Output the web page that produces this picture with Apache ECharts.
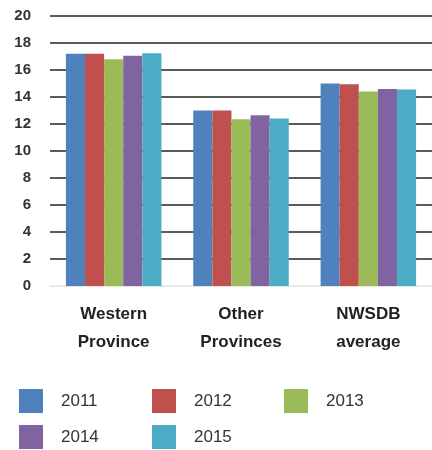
<!DOCTYPE html>
<html><head><meta charset="utf-8">
<script src="https://cdn.jsdelivr.net/npm/echarts@6/dist/echarts.min.js"></script>
<style>html,body{margin:0;padding:0;background:#fff}#c{width:432px;height:450px}</style>
</head><body><div id="c"></div>
<script>
const categories = ['Western\nProvince', 'Other\nProvinces', 'NWSDB\naverage'];
const years = ['2011', '2012', '2013', '2014', '2015'];
const v2011 = [17.2, 13.0, 15.0];
const v2012 = [17.2, 13.0, 14.95];
const v2013 = [16.8, 12.35, 14.4];
const v2014 = [17.05, 12.65, 14.6];
const v2015 = [17.25, 12.4, 14.55];
const yTicks = [0, 2, 4, 6, 8, 10, 12, 14, 16, 18, 20];
const colors = ['#4F81BD', '#C0504D', '#9BBB59', '#8064A2', '#4BACC6'];
const seriesValues = [v2011, v2012, v2013, v2014, v2015];

const legendPos = [[19, 389], [152, 389], [284, 389], [19, 425], [152, 425]];
const chart = echarts.init(document.getElementById('c'));
chart.setOption({
  backgroundColor: '#fff',
  animation: false,
  color: colors,
  grid: {left: 50, top: 16, width: 384, height: 270},
  legend: years.map((y, i) => ({
    data: [y], left: legendPos[i][0], top: legendPos[i][1],
    itemWidth: 24, itemHeight: 24, icon: 'rect', padding: 0,
    textStyle: {fontFamily: 'Liberation Sans', fontSize: 17, color: '#333', padding: [0, 0, 0, 13]}
  })),
  xAxis: {
    type: 'category', data: categories,
    axisLine: {show: true, lineStyle: {color: '#e8e2dc'}},
    axisTick: {show: false},
    axisLabel: {fontFamily: 'Liberation Sans', fontWeight: 'bold', fontSize: 17, color: '#222', lineHeight: 28, margin: 14}
  },
  yAxis: {
    type: 'value', min: 0, max: 20, interval: 2,
    axisLine: {show: false}, axisTick: {show: false},
    axisLabel: {fontFamily: 'Liberation Sans', fontWeight: 'bold', fontSize: 15, color: '#333', margin: 19,
      formatter: v => yTicks.includes(v) ? String(v) : ''},
    splitLine: {lineStyle: {color: ['#eeeeee', '#5a5a5a', '#5a5a5a', '#5a5a5a', '#5a5a5a', '#5a5a5a', '#5a5a5a', '#5a5a5a', '#5a5a5a', '#5a5a5a', '#5a5a5a'], width: 2}}
  },
  series: years.map((y, i) => ({
    name: y, type: 'bar', data: seriesValues[i],
    barGap: '0%', barCategoryGap: '25%'
  }))
});
</script></body></html>
